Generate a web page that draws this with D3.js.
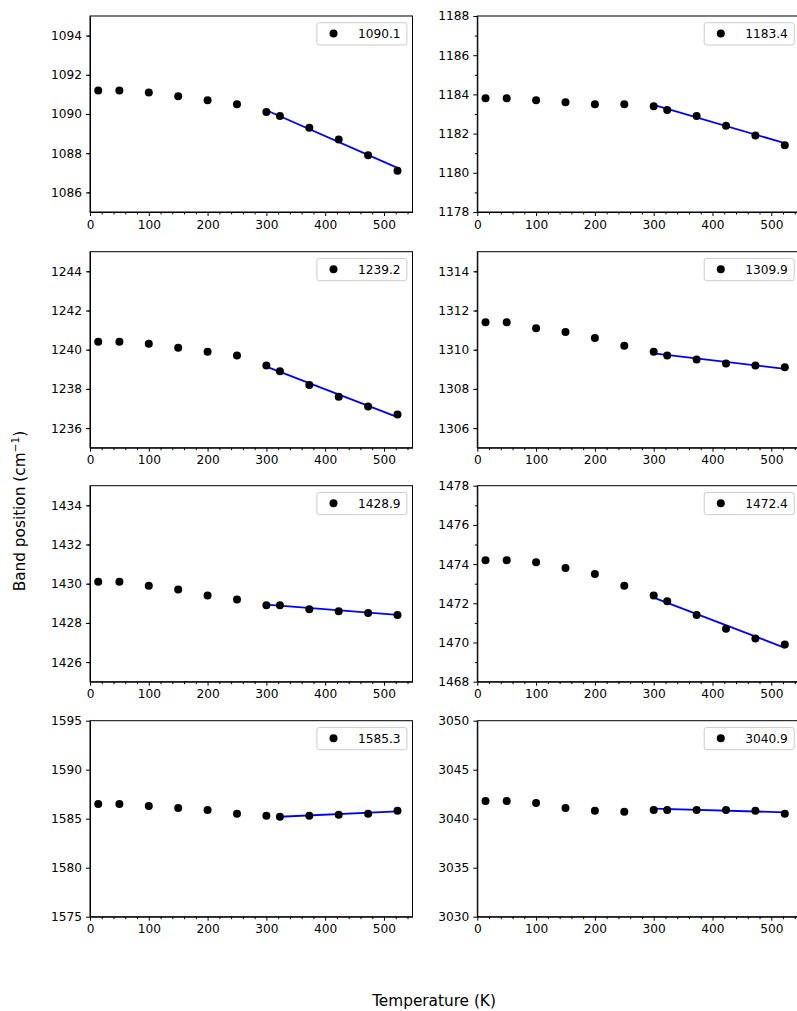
<!DOCTYPE html>
<html>
<head>
<meta charset="utf-8">
<script src="https://cdn.jsdelivr.net/npm/d3@7"></script>
<style>
  body { margin: 0; background: #fff; }
  svg text { font-family: "DejaVu Sans", sans-serif; }
  .axis text { font-size: 12.2px; fill: #000; font-family: "DejaVu Sans", sans-serif; }
  .axis path, .axis line { stroke: #000; }
</style>
</head>
<body>
<div id="chart"></div>
<script>
// temperatures (K)
const temps = [14, 50, 100, 150, 200, 250, 300, 323, 373, 423, 473, 523]

// band position per panel (cm-1)
const band1090 = [1091.2, 1091.2, 1091.1, 1090.9, 1090.7, 1090.5, 1090.1, 1089.9, 1089.3, 1088.7, 1087.9, 1087.1]
const band1183 = [1183.8, 1183.8, 1183.7, 1183.6, 1183.5, 1183.5, 1183.4, 1183.2, 1182.9, 1182.4, 1181.9, 1181.4]
const band1239 = [1240.4, 1240.4, 1240.3, 1240.1, 1239.9, 1239.7, 1239.2, 1238.9, 1238.2, 1237.6, 1237.1, 1236.7]
const band1309 = [1311.4, 1311.4, 1311.1, 1310.9, 1310.6, 1310.2, 1309.9, 1309.7, 1309.5, 1309.3, 1309.2, 1309.1]
const band1428 = [1430.1, 1430.1, 1429.9, 1429.7, 1429.4, 1429.2, 1428.9, 1428.9, 1428.7, 1428.6, 1428.5, 1428.4]
const band1472 = [1474.2, 1474.2, 1474.1, 1473.8, 1473.5, 1472.9, 1472.4, 1472.1, 1471.4, 1470.7, 1470.2, 1469.9]
const band1585 = [1586.5, 1586.5, 1586.3, 1586.1, 1585.9, 1585.5, 1585.3, 1585.2, 1585.3, 1585.4, 1585.5, 1585.8]
const band3040 = [3041.8, 3041.8, 3041.6, 3041.1, 3040.8, 3040.7, 3040.9, 3040.9, 3040.9, 3040.9, 3040.8, 3040.5]

const seriesList = [band1090, band1183, band1239, band1309, band1428, band1472, band1585, band3040]
const legendLabels = ['1090.1', '1183.4', '1239.2', '1309.9', '1428.9', '1472.4', '1585.3', '3040.9']

// y limits per panel
const yLimits = [[1085, 1095], [1178, 1188], [1235, 1245], [1305, 1315],
                 [1425, 1435], [1468, 1478], [1575, 1595], [3030, 3050]]
const yMinorStep = [1, 1, 1, 1, 1, 1, 0, 0]

// linear fit, start/end temperature and value
const fitTemps = [[300, 523], [300, 523], [300, 523], [300, 523], [300, 523], [300, 523], [323, 523], [300, 523]]
const fitValues = [[1090.19, 1087.25], [1183.46, 1181.51], [1239.14, 1236.56], [1309.81, 1309.02],
                   [1428.93, 1428.41], [1472.29, 1469.73], [1585.20, 1585.75], [3041.02, 3040.65]]

const xLimits = [0, 548.5]
const xTicks = [0, 100, 200, 300, 400, 500]

const svgWidth = 797
const svgHeight = 1011
const colLeft = [90, 477.3]
const rowTop = [16, 251.7, 485.7, 720.7]
const axW = 322.5
const axH = 196

let svg = d3.select('#chart')
  .append('svg')
  .attr('width', svgWidth)
  .attr('height', svgHeight)

seriesList.forEach((values, i) => {
  const left = colLeft[i % 2]
  const top = rowTop[Math.floor(i / 2)]

  let xScale = d3.scaleLinear().domain(xLimits).range([0, axW])
  let yScale = d3.scaleLinear().domain(yLimits[i]).range([axH, 0])

  let plot = svg.append('g')
    .attr('transform', 'translate(' + left + ',' + top + ')')

  // minor ticks
  let xMinor = d3.range(0, xLimits[1], 20).filter(v => v % 100 !== 0)
  plot.append('g')
    .attr('class', 'axis')
    .attr('transform', 'translate(0,' + axH + ')')
    .call(d3.axisBottom(xScale).tickValues(xMinor).tickSize(2.5).tickSizeOuter(0).tickFormat(''))
    .select('.domain').remove()

  if (yMinorStep[i]) {
    let yMinor = d3.range(yLimits[i][0], yLimits[i][1] + 0.001, yMinorStep[i])
      .filter(v => (v - yLimits[i][0]) % 2 !== 0)
    plot.append('g')
      .attr('class', 'axis')
      .call(d3.axisLeft(yScale).tickValues(yMinor).tickSize(2.5).tickSizeOuter(0).tickFormat(''))
      .select('.domain').remove()
  }

  plot.append('g')
    .attr('class', 'axis')
    .attr('transform', 'translate(0,' + axH + ')')
    .call(d3.axisBottom(xScale).tickValues(xTicks).tickSize(4).tickPadding(4).tickSizeOuter(0))

  plot.append('g')
    .attr('class', 'axis')
    .call(d3.axisLeft(yScale).ticks(5).tickSize(4).tickPadding(4).tickSizeOuter(0).tickFormat(d3.format('d')))

  // frame
  plot.append('rect')
    .attr('width', axW)
    .attr('height', axH)
    .attr('fill', 'none')
    .attr('stroke', '#000')
    .attr('stroke-width', 1)

  // fit line
  let line = d3.line()
    .x(d => xScale(d[0]))
    .y(d => yScale(d[1]))
  plot.append('path')
    .datum(fitTemps[i].map((t, k) => [t, fitValues[i][k]]))
    .attr('d', line)
    .attr('fill', 'none')
    .attr('stroke', '#0000ff')
    .attr('stroke-width', 1.8)

  // points
  plot.selectAll('.dot')
    .data(values.map((v, k) => ({ x: temps[k], y: v })))
    .enter()
    .append('circle')
    .attr('class', 'dot')
    .attr('cx', d => xScale(d.x))
    .attr('cy', d => yScale(d.y))
    .attr('r', 4)
    .attr('fill', '#000')

  // legend
  let legend = plot.append('g')
    .attr('transform', 'translate(' + (axW - 95.6) + ',6.7)')
  legend.append('rect')
    .attr('width', 90)
    .attr('height', 22.3)
    .attr('rx', 2.5)
    .attr('fill', '#fff')
    .attr('fill-opacity', 0.8)
    .attr('stroke', '#cccccc')
    .attr('stroke-width', 1)
  legend.append('circle')
    .attr('cx', 16.6)
    .attr('cy', 10.8)
    .attr('r', 4)
    .attr('fill', '#000')
  legend.append('text')
    .attr('x', 41)
    .attr('y', 15.4)
    .style('font-size', '12.2px')
    .text(legendLabels[i])
})

// shared axis labels
svg.append('text')
  .attr('x', 434)
  .attr('y', 1005.5)
  .attr('text-anchor', 'middle')
  .style('font-size', '15.3px')
  .text('Temperature (K)')

let yLabel = svg.append('text')
  .attr('transform', 'translate(25,511) rotate(-90)')
  .attr('text-anchor', 'middle')
  .style('font-size', '15.3px')
yLabel.append('tspan').text('Band position (cm')
yLabel.append('tspan').attr('dy', -6.5).style('font-size', '10.7px').text('\u22121')
yLabel.append('tspan').attr('dy', 6.5).text(')')
</script>
</body>
</html>
